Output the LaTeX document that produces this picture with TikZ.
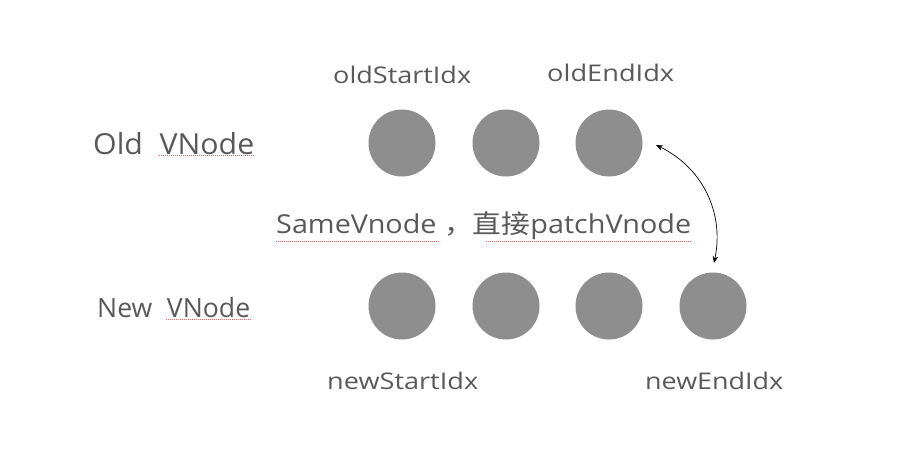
\documentclass[tikz,border=0pt]{standalone}
\usepackage{fontspec}
\usepackage{graphicx}
\setmainfont{Open Sans}
\newfontfamily\cjk{Noto Sans CJK SC}
\usetikzlibrary{arrows.meta}
\definecolor{txt}{HTML}{595959}
\definecolor{ball}{HTML}{8E8E8E}
\definecolor{spellred}{HTML}{F06060}
\newcommand\fitw[2]{\resizebox*{#1}{\totalheight}{#2}}
\tikzset{
  ball/.style={circle, fill=ball, minimum size=67pt, inner sep=0pt},
  lbl/.style={text=txt, inner sep=0pt, anchor=base west},
  spell/.style={spellred, dash pattern=on 1pt off 1pt, line width=1pt}
}
\begin{document}
\begin{tikzpicture}[x=1pt,y=-1pt]
\useasboundingbox (0,0) rectangle (914,458);
% circles
\node[ball] (o1) at (402,143) {};
\node[ball] (o2) at (506,143) {};
\node[ball] (o3) at (609,143) {};
\node[ball] (n1) at (402,306) {};
\node[ball] (n2) at (506,306) {};
\node[ball] (n3) at (609,306) {};
\node[ball] (n4) at (713,306) {};
% labels
\node[lbl, font=\fontsize{29}{32}\selectfont] (oldlbl) at (93,154) {\fitw{161pt}{Old\hspace{0.55em}VNode}};
\node[lbl, font=\fontsize{26.5}{30}\selectfont] (newlbl) at (97,317) {\fitw{153pt}{New\hspace{0.55em}VNode}};
\node[lbl, font=\fontsize{23}{26}\selectfont] (osi) at (333,83) {\fitw{138pt}{oldStartIdx}};
\node[lbl, font=\fontsize{23}{26}\selectfont] (oei) at (547,81) {\fitw{127pt}{oldEndIdx}};
\node[lbl, font=\fontsize{23}{26}\selectfont] (nsi) at (327,389) {\fitw{151pt}{newStartIdx}};
\node[lbl, font=\fontsize{23}{26}\selectfont] (nei) at (645,389) {\fitw{138pt}{newEndIdx}};
\node[lbl, font=\fontsize{26}{30}\selectfont] (same) at (276,233) {\fitw{415pt}{SameVnode {\cjk ，直接}patchVnode}};
% spell-check underlines
\draw[spell] (159,155.5) -- (254,155.5);
\draw[spell] (166,319) -- (251,319);
\draw[spell] (276,241) -- (439,241);
\draw[spell] (486,241) -- (692,241);
% arrow
\coordinate (a1) at (656,145);
\coordinate (a2) at (714,263);
\draw[{Stealth[length=7pt,width=5.5pt]}-{Stealth[length=7pt,width=5.5pt]}, line width=0.7pt] (a1) to[bend left=38] (a2);
\end{tikzpicture}
\end{document}
